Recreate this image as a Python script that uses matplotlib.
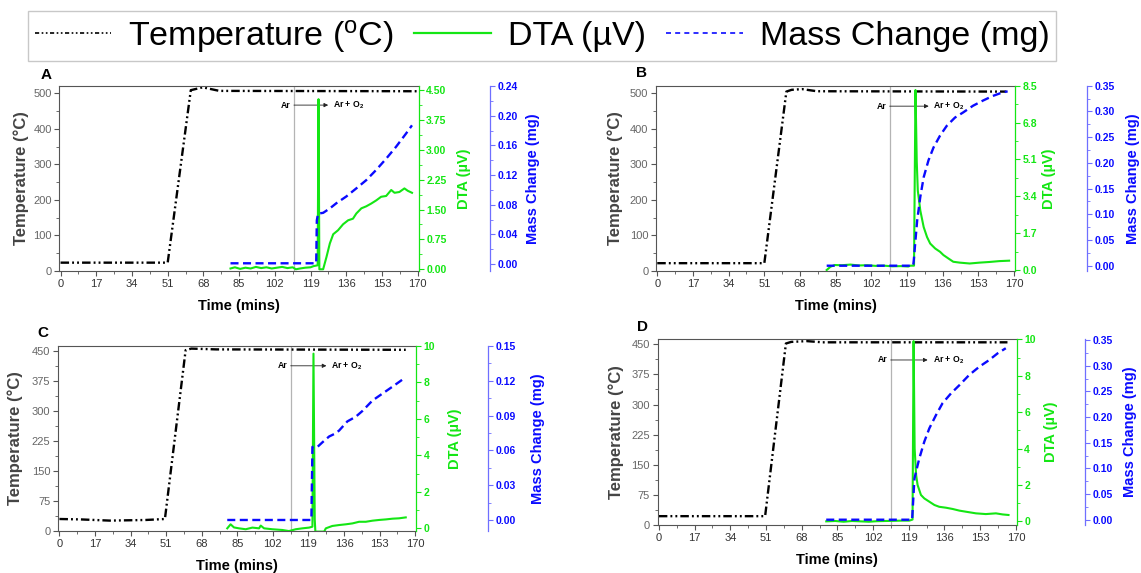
import matplotlib
matplotlib.use("Agg")
import numpy as np
import matplotlib.pyplot as plt
from matplotlib import font_manager
from matplotlib.lines import Line2D
from matplotlib.ticker import MultipleLocator, FormatStrFormatter

_names = {f.name for f in font_manager.fontManager.ttflist}
NARROW = 'Liberation Sans Narrow' if 'Liberation Sans Narrow' in _names else 'Liberation Sans'
LEGEND_SIZE = 29 if NARROW == 'Liberation Sans Narrow' else 24.5

plt.rcParams['font.family'] = ['Liberation Sans', 'DejaVu Sans']
plt.rcParams['mathtext.fontset'] = 'custom'
plt.rcParams['mathtext.rm'] = NARROW
plt.rcParams['mathtext.bf'] = 'Liberation Sans:bold'

# ---------------- panel A ----------------
time_temp_a = [0, 51, 62, 67.7, 75.6, 169.5]
temp_a = [23.5, 23.5, 509, 517, 507, 506]
time_dta_a = [80.9, 83, 85.5, 88, 90.5, 93, 95.5, 98, 100.5, 103, 105.5, 108, 110.5, 112,
              114, 116.5, 119, 120.5, 122.4, 122.8, 123.2, 125.0, 126.6, 128.2, 129.8,
              132.1, 134.5, 136.9, 139.2, 140.8, 143.2, 145.5, 147.9, 150.3, 152.6, 155.0,
              157.4, 159.0, 161.3, 163.7, 165.3, 167.3]
dta_a = [0.02, 0.05, 0.01, 0.04, 0.02, 0.06, 0.03, 0.05, 0.02, 0.04, 0.06, 0.03, 0.05, 0.0,
         0.02, 0.04, 0.05, 0.08, 0.1, 4.27, 0.0, 0.0, 0.31, 0.65, 0.88,
         0.98, 1.13, 1.23, 1.27, 1.40, 1.53, 1.58, 1.65, 1.73, 1.82, 1.84,
         1.99, 1.92, 1.94, 2.03, 1.97, 1.92]
time_mass_a = [80.9, 121.7, 122.0, 122.6, 125.0, 128.2, 131.3, 136.0, 140.8, 145.5, 150.3,
               155.0, 159.7, 164.5, 167.3]
mass_a = [0.001, 0.001, 0.059, 0.068, 0.069, 0.075, 0.082, 0.091, 0.102, 0.113, 0.127,
          0.142, 0.158, 0.176, 0.187]

# ---------------- panel B ----------------
time_temp_b = [0, 51, 61.5, 64, 69, 76, 166.2]
temp_b = [22, 22, 505, 510, 512, 506, 505]
time_dta_b = [80.7, 82.5, 84.6, 88, 92, 96, 100, 104, 108, 112, 116, 119.5, 120.6, 122.3,
              123.0, 123.6, 124.1, 125.3, 126.9, 128.5, 130.0, 132.4, 134.7, 136.3, 138.7,
              141.0, 144.1, 148.8, 153.5, 158.2, 162.9, 167.6]
dta_b = [0.0, 0.15, 0.23, 0.22, 0.25, 0.21, 0.22, 0.19, 0.2, 0.17, 0.18, 0.16, 0.2, 0.2,
         8.3, 5.0, 3.66, 2.74, 1.98, 1.52, 1.22, 0.99, 0.84, 0.69, 0.53,
         0.38, 0.34, 0.30, 0.34, 0.37, 0.41, 0.43]
time_mass_b = [80.7, 121.9, 122.2, 123.0, 123.8, 125.3, 126.9, 129.2, 131.6, 134.7, 137.9,
               141.8, 145.7, 150.4, 155.1, 159.8, 164.5, 166.9]
mass_b = [0.0, 0.0, 0.011, 0.05, 0.088, 0.134, 0.172, 0.205, 0.23, 0.253, 0.272,
          0.288, 0.298, 0.311, 0.321, 0.33, 0.337, 0.339]

# ---------------- panel C ----------------
time_temp_c = [0, 10, 24, 41, 50.4, 60.3, 63, 75, 165.5]
temp_c = [30, 29, 26, 27.5, 30, 452, 456, 454, 453]
time_dta_c = [80.2, 81.8, 83.4, 85.8, 89, 92.2, 95.4, 96.2, 97.8, 101.7, 106.5, 109.7, 112.9,
              116.1, 119.3, 120.9, 121.4, 122.0, 122.3, 126.5, 127.3, 130.4, 133.6, 136.8,
              140.0, 143.2, 146.4, 149.6, 152.8, 156.0, 159.2, 162.3, 165.5]
dta_c = [0.0, 0.22, 0.05, 0.0, -0.05, 0.04, 0.0, 0.15, 0.0, -0.05, -0.09, -0.15, -0.05,
         0.0, 0.04, 0.09, 9.58, 0.5, -0.18, -0.18, 0.0, 0.13, 0.18, 0.22,
         0.27, 0.36, 0.36, 0.42, 0.46, 0.49, 0.53, 0.55, 0.6]
time_mass_c = [80.2, 120.4, 120.9, 123.3, 125.7, 128.9, 131.2, 133.6, 137.6, 141.6, 144.8,
               149.6, 154.4, 159.2, 163.9]
mass_c = [0.0, 0.0, 0.063, 0.063, 0.067, 0.072, 0.074, 0.077, 0.085, 0.089, 0.094,
          0.103, 0.109, 0.115, 0.121]

# ---------------- panel D ----------------
time_temp_d = [0, 50.6, 60.5, 63, 70.4, 78, 166]
temp_d = [22, 22, 452, 456, 458, 455, 455]
time_dta_d = [79.7, 84, 88, 92, 96, 100, 104, 108, 112, 116, 119.3, 120.8, 121.3, 121.8,
              122.5, 123.2, 124.8, 126.4, 128.8, 131.2, 133.5, 136.7, 139.9, 143.1, 146.2,
              151.0, 155.7, 160.5, 163.7, 166.5]
dta_d = [0.0, 0.02, -0.02, 0.02, 0.0, -0.02, 0.01, 0.02, 0.03, 0.04, 0.04, 0.1, 9.9, 4.0,
         2.55, 2.0, 1.45, 1.26, 1.08, 0.90, 0.80, 0.75, 0.68, 0.59, 0.53,
         0.44, 0.40, 0.44, 0.38, 0.35]
time_mass_d = [79.7, 120.6, 120.9, 121.7, 122.5, 124.0, 126.4, 128.8, 132.0, 135.1, 139.1,
               143.1, 147.8, 152.6, 157.3, 161.3, 165.2]
mass_d = [0.0, 0.0, 0.022, 0.08, 0.094, 0.119, 0.152, 0.178, 0.204, 0.227, 0.246,
          0.262, 0.282, 0.298, 0.311, 0.324, 0.334]

# gas switch time (Ar -> Ar + O2) per panel
switch_time = [111.1, 110.7, 110.5, 110.4]

time_ticks = list(range(0, 171, 17))

GREEN = '#14e614'
BLUE = '#0a0aff'
TEMP_LS = (0, (3.6, 1.3, 0.8, 1.3, 0.8, 1.3))
MASS_LS = (0, (3.4, 1.9))

W, H = 1141, 573


def panel(fig, box, letter, letter_xy, t_temp, temp, t_dta, dta, t_mass, mass, switch,
          ar_y, arrow_end, text_x, temp_lim, temp_step, dta_lim, dta_step, dta_fmt,
          mass_lim, mass_step, mass_pos, lab_x):
    l, t, r, b = box
    ax = fig.add_axes([l / W, 1 - b / H, (r - l) / W, (b - t) / H])
    ax2 = ax.twinx()
    ax3 = ax.twinx()

    ax.plot(t_temp, temp, color='black', lw=1.7, ls=TEMP_LS)
    ax.axvline(switch, color='#b4b4b4', lw=0.9, zorder=1)
    ax.annotate('', xy=(arrow_end, ar_y), xytext=(switch, ar_y),
                arrowprops=dict(arrowstyle='-|>', color='#222222', lw=0.6,
                                mutation_scale=6, shrinkA=0, shrinkB=0))
    ax.text(switch - 1.5, ar_y, 'Ar', fontsize=6.2, fontweight='bold', ha='right', va='center')
    ax.text(text_x, ar_y, r'Ar + O$_{\mathbf{2}}$', fontsize=6.2, fontweight='bold',
            ha='left', va='center')

    ax2.plot(t_dta, dta, color=GREEN, lw=1.5)
    ax3.plot(t_mass, mass, color=BLUE, lw=1.7, ls=MASS_LS)

    ax.set_xlim(-0.6, 170.4)
    ax.set_xticks(time_ticks)
    ax.xaxis.set_minor_locator(MultipleLocator(8.5))
    ax.set_ylim(*temp_lim)
    ax.set_yticks(np.arange(0, temp_lim[1] + 1e-6, temp_step))
    ax.yaxis.set_minor_locator(MultipleLocator(temp_step / 2))
    ax.tick_params(which='both', direction='out', color='#555555')
    ax.tick_params(which='major', length=3.5, labelsize=8, pad=2)
    ax.tick_params(which='minor', length=2)
    ax.tick_params(axis='y', labelcolor='#666666')
    ax.tick_params(axis='x', labelcolor='#333333')
    for s in ['left', 'bottom', 'top']:
        ax.spines[s].set_color('#555555')
        ax.spines[s].set_linewidth(0.8)
    ax.spines['right'].set_visible(False)
    ax.set_xlabel('Time (mins)', fontsize=10.5, fontweight='bold')
    ax.xaxis.set_label_coords(0.5, -0.15)
    ax.set_ylabel('Temperature (°C)', fontsize=12, fontweight='bold', color='#444444')
    ax.yaxis.set_label_coords(lab_x[0], 0.5)

    ax2.set_ylim(*dta_lim)
    ax2.set_yticks(np.round(np.arange(0, dta_lim[1] + dta_step * 0.01, dta_step), 3))
    ax2.yaxis.set_major_formatter(FormatStrFormatter(dta_fmt))
    ax2.yaxis.set_minor_locator(MultipleLocator(dta_step / 2))
    for s in ['left', 'bottom', 'top']:
        ax2.spines[s].set_visible(False)
    ax2.spines['right'].set_color(GREEN)
    ax2.spines['right'].set_linewidth(0.9)
    ax2.tick_params(which='both', direction='out', color=GREEN)
    ax2.tick_params(which='major', length=3.5, labelsize=7.5, pad=2, labelcolor=GREEN)
    ax2.tick_params(which='minor', length=2)
    for lab in ax2.get_yticklabels():
        lab.set_fontweight('bold')
    ax2.set_ylabel('DTA (µV)', fontsize=10.5, fontweight='bold', color=GREEN)
    ax2.yaxis.set_label_coords(lab_x[1], 0.5)

    ax3.set_ylim(*mass_lim)
    ax3.set_yticks(np.round(np.arange(0, mass_lim[1] + mass_step * 0.01, mass_step), 3))
    ax3.yaxis.set_major_formatter(FormatStrFormatter('%.2f'))
    ax3.yaxis.set_minor_locator(MultipleLocator(mass_step / 2))
    for s in ['left', 'bottom', 'top']:
        ax3.spines[s].set_visible(False)
    ax3.spines['right'].set_position(('axes', mass_pos))
    ax3.spines['right'].set_color('#6f6fff')
    ax3.spines['right'].set_linewidth(0.9)
    ax3.tick_params(which='both', direction='out', color='#6f6fff')
    ax3.tick_params(which='major', length=3.5, labelsize=7.5, pad=2, labelcolor=BLUE)
    ax3.tick_params(which='minor', length=2)
    for lab in ax3.get_yticklabels():
        lab.set_fontweight('bold')
    ax3.set_ylabel('Mass Change (mg)', fontsize=10.5, fontweight='bold', color=BLUE)
    ax3.yaxis.set_label_coords(lab_x[2], 0.5)

    fig.text(letter_xy[0] / W, 1 - letter_xy[1] / H, letter, fontsize=11,
             fontweight='bold', ha='center', va='center')
    return ax


fig = plt.figure(figsize=(W / 100, H / 100), dpi=100)

panel(fig, (59.3, 85.7, 418.5, 271), 'A', (46.5, 75),
      time_temp_a, temp_a, time_dta_a, dta_a, time_mass_a, mass_a, switch_time[0],
      467, 127.4, 129.8, (0, 521.6), 100, (-0.043, 4.608), 0.75, '%.2f',
      (-0.0094, 0.2404), 0.04, 1.2, (-0.085, 1.1075, 1.30))
panel(fig, (656, 85.7, 1015, 271), 'B', (641.6, 73),
      time_temp_b, temp_b, time_dta_b, dta_b, time_mass_b, mass_b, switch_time[1],
      464, 129.3, 131.3, (0, 521.6), 100, (-0.046, 8.5), 1.7, '%.1f',
      (-0.0103, 0.35), 0.05, 1.2, (-0.093, 1.074, 1.308))
panel(fig, (58.2, 346, 416, 531), 'C', (43, 333),
      time_temp_c, temp_c, time_dta_c, dta_c, time_mass_c, mass_c, switch_time[2],
      413, 127.6, 129.6, (0, 462.5), 75, (-0.146, 10.0), 2, '%d',
      (-0.0095, 0.15), 0.03, 1.2, (-0.097, 1.089, 1.321))
panel(fig, (657.6, 339.3, 1016.7, 525), 'D', (643, 327),
      time_temp_d, temp_d, time_dta_d, dta_d, time_mass_d, mass_d, switch_time[3],
      411, 128.0, 130.4, (0, 462.5), 75, (-0.2, 10.0), 2, '%d',
      (-0.0103, 0.3514), 0.05, 1.19, (-0.093, 1.075, 1.297))

handles = [Line2D([], [], color='black', lw=1.2, ls=(0, (2.5, 1.5, 1, 1.5, 1, 1.5))),
           Line2D([], [], color=GREEN, lw=1.6),
           Line2D([], [], color=BLUE, lw=1.2, ls=(0, (3, 2.5)))]
labels = ['Temperature ($\\mathregular{^o}$C)', 'DTA (µV)', 'Mass Change (mg)']
fig.legend(handles, labels, loc='center', bbox_to_anchor=(542 / W, 1 - 36 / H), ncol=3,
           prop={'family': NARROW, 'size': LEGEND_SIZE}, frameon=True, fancybox=False,
           edgecolor='#c8c8c8', framealpha=1, borderpad=0.18, handlelength=2.25,
           handletextpad=0.5, columnspacing=0.6, borderaxespad=0)

fig.savefig('out.png', dpi=100)
